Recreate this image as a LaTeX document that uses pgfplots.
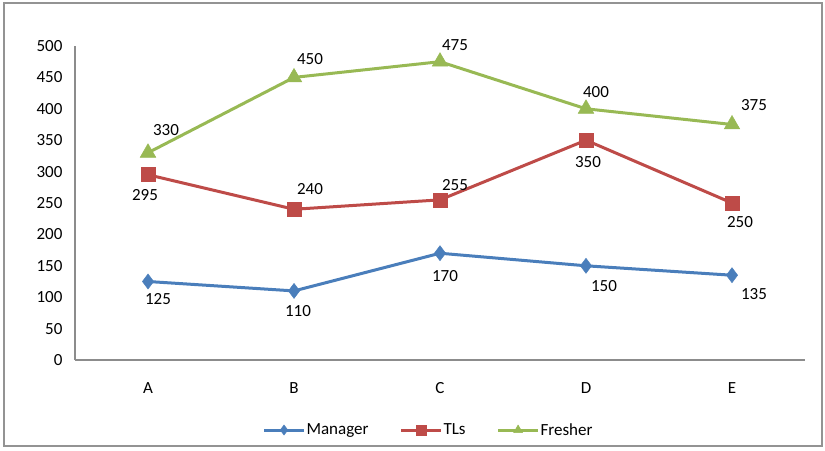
\documentclass[border=0pt]{standalone}
\usepackage{fontspec}
\setmainfont{Carlito}
\usepackage{pgfplots}
\usepackage{pgfplotstable}
\pgfplotsset{compat=1.18}
\definecolor{mgr}{HTML}{4A7EBB}
\definecolor{tls}{HTML}{BE4B48}
\definecolor{fre}{HTML}{98B954}

% x = category index (A..E), dx/dy = label offset in pt
\pgfplotstableread{
x y dx dy
0 125 10 -18
1 110 4 -20
2 170 5 -23
3 150 18 -20
4 135 22 -19
}\manager
\pgfplotstableread{
x y dx dy
0 295 -3 -20
1 240 16 20
2 255 15 15
3 350 2 -22
4 250 8 -19
}\tls
\pgfplotstableread{
x y dx dy
0 330 18 23
1 450 16 18
2 475 15 17
3 400 10 17
4 375 22 19
}\fresher

\begin{document}
\begin{tikzpicture}
\begin{axis}[
    name=ax,
    scale only axis,
    width=730pt, height=314pt,
    xmin=-0.5, xmax=4.5,
    ymin=0, ymax=500,
    xtick={0,...,4}, xticklabels={A,B,C,D,E},
    ytick={0,50,...,500},
    axis x line=bottom, axis y line=left,
    axis line style={draw=gray!90, line width=1.3pt, -},
    major tick length=0,
    font=\fontsize{17}{20}\selectfont,
    tick label style={font=\fontsize{17}{20}\selectfont},
    /pgf/number format/assume math mode=true,
    yticklabel style={xshift=-9pt},
    xticklabel style={yshift=-19pt},
    legend columns=3,
    legend style={at={(0.4836,-0.223)}, anchor=center, draw=none,
        font=\fontsize{17}{20}\selectfont,
        nodes={inner xsep=1pt},
        /tikz/every even column/.append style={column sep=30pt}},
    legend image code/.code={
        \draw[#1, line width=3pt] (0pt,0pt) -- (40pt,0pt);
        \draw[#1, mark size=5pt] plot coordinates {(20pt,0pt)};},
    nodes near coords,
    visualization depends on={\thisrow{dx}\as\dx},
    visualization depends on={\thisrow{dy}\as\dy},
    every node near coord/.append style={anchor=center, xshift=\dx pt, yshift=\dy pt,
        font=\fontsize{17}{20}\selectfont, text=black},
]
\addplot[mgr, line width=3pt, mark=diamond*, mark size=7.5pt,
    mark options={solid, fill=mgr, line width=0.5pt}] table[x=x, y=y] {\manager};
\addlegendentry{Manager}
\addplot[tls, line width=3pt, mark=square*, mark size=7pt,
    mark options={solid, fill=tls, line width=0.5pt}] table[x=x, y=y] {\tls};
\addlegendentry{TLs}
\addplot[fre, line width=3pt, mark=triangle*, mark size=9pt,
    mark options={solid, fill=fre, line width=0.5pt}] table[x=x, y=y] {\fresher};
\addlegendentry{Fresher}
\end{axis}
\draw[gray!85, line width=1.5pt] ([xshift=-71pt, yshift=-86pt]ax.south west)
    rectangle ([xshift=17pt, yshift=43pt]ax.north east);
% white margin round the frame
\path ([xshift=-75pt, yshift=-91pt]ax.south west)
    rectangle ([xshift=20pt, yshift=46pt]ax.north east);
\end{tikzpicture}
\end{document}
